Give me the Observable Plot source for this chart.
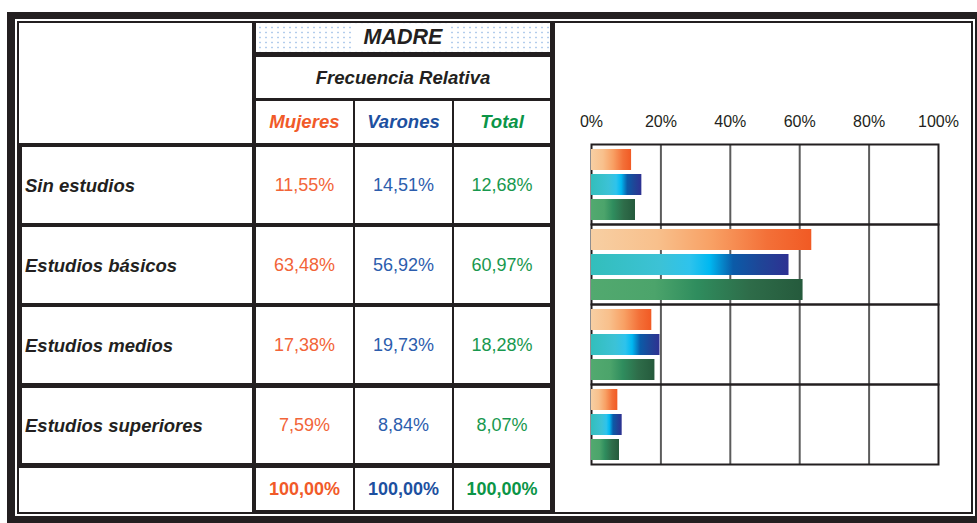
<!DOCTYPE html>
<html>
<head>
<meta charset="utf-8">
<script src="https://cdn.jsdelivr.net/npm/d3@7"></script>
<script src="https://cdn.jsdelivr.net/npm/@observablehq/plot@0.6"></script>
<style>
html,body{margin:0;padding:0;background:#fff;}
#wrap{position:relative;width:977px;height:523px;overflow:hidden;background:#fff;font-family:"Liberation Sans",Arial,Helvetica,sans-serif;color:#231f20;}
.abs{position:absolute;box-sizing:border-box;}
.cell{position:absolute;background:#fff;display:flex;align-items:center;justify-content:center;box-sizing:border-box;font-size:18px;white-space:nowrap;}
.lab{justify-content:flex-start;padding-left:3px;font-weight:bold;font-style:italic;color:#231f20;font-size:18.5px;padding-top:1px;}
.hdr{font-weight:bold;font-style:italic;font-size:18.6px;}
.tot{font-weight:bold;}
.c0{color:#f15a29;}
.c1{color:#1d50a0;}
.c2{color:#0b9547;}
.v.c0{color:#f26438;}
.v.c1{color:#2c5dad;}
.v.c2{color:#18984e;}
.dots{background-color:#fff;background-image:radial-gradient(circle,#b3cdec 0.8px,rgba(255,255,255,0) 1.2px);background-size:6px 5px;background-position:1px 2px;}
.dots span{background:#fff;padding:0 9px;font-size:21.5px;}
#chart{position:absolute;left:555px;top:100px;}
</style>
</head>
<body>
<div id="wrap"></div>
<script>
// ---- data ----
const categories = ["Sin estudios", "Estudios básicos", "Estudios medios", "Estudios superiores"];
const series = ["Mujeres", "Varones", "Total"];
const mujeres = [11.55, 63.48, 17.38, 7.59];
const varones = [14.51, 56.92, 19.73, 8.84];
const total = [12.68, 60.97, 18.28, 8.07];
const columnTotals = [100, 100, 100];
const xTicks = [0, 20, 40, 60, 80, 100];
const title = "MADRE";
const subtitle = "Frecuencia Relativa";

const seriesValues = [mujeres, varones, total];
const fmt = v => v.toFixed(2).replace(".", ",") + "%";

// ---- table (HTML) ----
const wrap = document.getElementById("wrap");
function box(cls, x0, y0, x1, y1, html) {
  const d = document.createElement("div");
  d.className = cls;
  d.style.left = x0 + "px"; d.style.top = y0 + "px";
  d.style.width = (x1 - x0) + "px"; d.style.height = (y1 - y0) + "px";
  if (html != null) d.innerHTML = html;
  wrap.appendChild(d);
  return d;
}
// outer frames
const outer = box("abs", 7, 12, 983, 523);
outer.style.border = "8px solid #231f20"; outer.style.borderTopWidth = "7px"; outer.style.borderBottomWidth = "7px";
const inner = box("abs", 17, 21, 973, 514);
inner.style.border = "2px solid #231f20";
// table black background (lines appear between white cells)
const tbg = box("abs", 17, 21, 555, 514); tbg.style.background = "#231f20";

const colX = [[256, 353], [355, 452], [454, 550]];
const rowY = [[147, 223], [227, 303], [307, 383], [388, 463]];

box("cell", 19, 23, 252, 143);
box("cell hdr dots", 256, 23, 550, 52, `<span>${title}</span>`);
box("cell hdr", 256, 57, 550, 98, subtitle);
series.forEach((s, j) => box(`cell hdr c${j}`, colX[j][0], 101, colX[j][1], 143, s));
categories.forEach((c, i) => {
  box("cell lab", 22, rowY[i][0], 252, rowY[i][1], c);
  series.forEach((s, j) => box(`cell v c${j}`, colX[j][0], rowY[i][0], colX[j][1], rowY[i][1], fmt(seriesValues[j][i])));
});
box("cell", 19, 468, 252, 512);
series.forEach((s, j) => box(`cell tot c${j}`, colX[j][0], 468, colX[j][1], 510, fmt(columnTotals[j])));

// ---- chart (Plot) ----
const rows = categories.flatMap((c, i) => series.map((s, j) => ({category: c, series: s, value: seriesValues[j][i]})));

const chart = Plot.plot({
  width: 416,
  height: 380,
  marginLeft: 36,
  marginRight: 33,
  marginTop: 44,
  marginBottom: 16,
  style: {fontSize: "16px", fontFamily: "'Liberation Sans', Arial, Helvetica, sans-serif", background: "transparent", color: "#231f20", overflow: "visible"},
  x: {domain: [0, 100], axis: "top", ticks: xTicks, tickFormat: d => d + "%", tickSize: 0, tickPadding: 17.5, label: null},
  y: {domain: series, padding: 0.18, axis: null},
  fy: {domain: categories, padding: 0, axis: null},
  color: {domain: series, range: ["url(#gM)", "url(#gV)", "url(#gT)"]},
  facet: {data: rows, y: "category"},
  marks: [
    Plot.ruleX([20, 40, 60, 80], {stroke: "#5c5c5c", strokeWidth: 2}),
    Plot.frame({stroke: "#231f20", strokeWidth: 2}),
    Plot.barX(rows, {x: "value", y: "series", fill: "series"})
  ]
});
chart.id = "chart";
const svgEl = chart.tagName.toLowerCase() === "svg" ? chart : chart.querySelector("svg");
const defs = d3.select(svgEl).insert("defs", ":first-child");
const grads = [
  ["gM", [[0, "#f7cfa3"], [0.3, "#f8c08c"], [0.55, "#f8a064"], [0.8, "#f37038"], [1, "#f15a24"]]],
  ["gV", [[0, "#33bebb"], [0.35, "#3cc2d6"], [0.5, "#2ec3ec"], [0.6, "#00b8f1"], [0.72, "#0b5ba8"], [0.86, "#1f4597"], [1, "#2e3192"]]],
  ["gT", [[0, "#52a96f"], [0.3, "#4ca46b"], [0.5, "#2f8d5e"], [0.75, "#2e6c49"], [1, "#255a3c"]]]
];
grads.forEach(([id, stops]) => {
  const g = defs.append("linearGradient").attr("id", id).attr("x1", 0).attr("x2", 1).attr("y1", 0).attr("y2", 0);
  stops.forEach(([o, c]) => g.append("stop").attr("offset", o).attr("stop-color", c));
});
wrap.appendChild(chart);
</script>
</body>
</html>
